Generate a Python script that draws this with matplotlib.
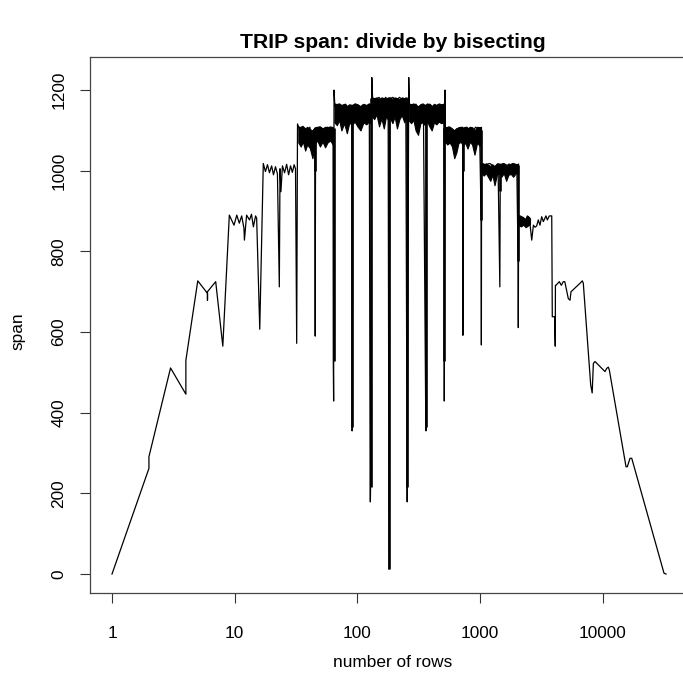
import numpy as np
import matplotlib.pyplot as plt

plt.rcParams['font.family'] = ['Liberation Sans', 'DejaVu Sans']

# span traced along the upper edge of the curve, with the dips at the
# (half) powers of two
rows = [1, 2, 2, 3, 4, 4, 5, 6, 6, 6, 7, 8,
        9.04, 9.87, 10.4, 10.9, 11.4, 11.9, 12.0, 12.5, 13.2, 13.7, 14.2, 14.8, 15.1, 16,
        17.1, 17.8, 18.5, 19.2, 20, 20.7, 21.5, 22.3, 23.1, 23.4, 23.8, 24.5, 25.5,
        26.5, 27.5, 28.5, 29.5, 30.5, 31.3, 32,
        32.5, 33.5, 36, 39, 41, 43, 44, 45.0, 45.3, 45.6, 49, 53, 57, 61, 63.3,
        63.6, 64, 64.5,
        65.5, 70, 75, 80, 85, 90, 90.5, 91, 91.5, 96, 103, 110, 118, 125,
        127, 127.5, 128, 131,
        133, 140, 150, 160, 170, 178, 181, 184, 195, 205, 220, 235, 248,
        254, 254.5, 255, 262,
        265, 280, 300, 320, 345, 361, 362, 364, 390, 420, 450, 480, 505,
        510, 510.5, 511, 517,
        520, 560, 600, 650, 700, 720, 724, 728, 780, 850, 920, 990,
        1020, 1024, 1028,
        1100, 1200, 1310, 1400, 1448, 1460, 1550, 1700, 1850, 1990,
        2040, 2048,
        2060, 2115, 2250, 2322, 2427, 2520, 2635, 2718, 2800, 2890, 2980, 3076,
        3174, 3275, 3443, 3530, 3665, 3835,
        3875, 4050, 4096, 4110, 4156, 4420, 4590, 4765, 4900, 5233, 5404, 5505,
        6520, 6808, 6935, 7965, 8192, 8375, 8635, 10420, 10760, 11090, 11300,
        15460, 15840, 16660, 17210, 31540, 32768]
span = [0, 262, 291, 511, 446, 530, 727, 696, 679, 700, 725, 565,
        890, 865, 890, 870, 888, 857, 828, 890, 878, 892, 861, 888, 882, 607,
        1018, 998, 1015, 995, 1012, 990, 1010, 992, 712, 1005, 948, 1012, 995,
        1016, 990, 1012, 996, 1015, 1005, 572,
        1116, 1105, 1110, 1090, 1108, 1047, 1100, 1105, 590, 1100, 1108, 1095, 1108, 1100, 1105,
        528, 429, 1200,
        1160, 1165, 1150, 1165, 1155, 1160, 355, 364, 1160, 1165, 1150, 1163, 1155, 1165,
        215, 179, 215, 1231,
        1180, 1175, 1182, 1170, 1182, 1175, 12, 1178, 1182, 1172, 1182, 1175, 1180,
        215, 179, 215, 1231,
        1165, 1160, 1165, 1150, 1160, 364, 355, 1160, 1165, 1155, 1163, 1160, 1165,
        945, 429, 528, 1200,
        1105, 1109, 1095, 1105, 1100, 1108, 592, 1100, 1108, 1095, 1108, 1100,
        878, 568, 1019,
        1015, 1018, 1010, 1017, 712, 1015, 1018, 1012, 1018, 1015,
        776, 611,
        888, 888, 884, 874, 888, 882, 828, 865, 860, 863, 878, 865,
        886, 874, 888, 878, 888, 888,
        638, 638, 565, 716, 716, 725, 716, 725, 725, 683, 679, 700,
        721, 727, 721, 469, 449, 522, 527, 502, 510, 513, 506,
        266, 266, 287, 287, 2, 0]

# dense parts of the curve: upper / lower envelope of each plateau
band_rows = [[33, 34.5, 36, 37.5, 39, 41, 43, 45, 47, 49.5, 52, 54.5, 57, 60, 63],
             [65, 68, 71, 74, 78, 82, 86, 90, 95, 100, 106, 112, 118, 124, 127],
             [131, 137, 143, 150, 157, 164, 171, 178, 185, 193, 201, 210, 220, 230, 241, 252],
             [262, 274, 286, 298, 312, 326, 340, 355, 370, 386, 403, 421, 440, 460, 480, 505],
             [518, 540, 565, 590, 615, 640, 665, 695, 725, 755, 790, 825, 860, 900, 945, 990, 1018],
             [1028, 1070, 1115, 1160, 1210, 1260, 1310, 1370, 1430, 1490, 1560, 1630, 1700, 1780,
              1860, 1950, 2040],
             [2055, 2150, 2250, 2350, 2450, 2550]]
band_hi = [[1110, 1108, 1110, 1105, 1109, 1103, 1100, 1108, 1109, 1110, 1105, 1109, 1108, 1110, 1108],
           [1167, 1165, 1167, 1163, 1166, 1160, 1165, 1163, 1167, 1165, 1160, 1166, 1163, 1167, 1165],
           [1182, 1180, 1182, 1177, 1182, 1180, 1178, 1182, 1182, 1178, 1182, 1180, 1177, 1182, 1180, 1182],
           [1167, 1165, 1167, 1163, 1160, 1165, 1167, 1163, 1167, 1165, 1160, 1166, 1163, 1167, 1165, 1165],
           [1109, 1107, 1109, 1105, 1100, 1103, 1108, 1109, 1107, 1109, 1105, 1109, 1108, 1100, 1109,
            1108, 1109],
           [1018, 1016, 1018, 1015, 1012, 1016, 1010, 1018, 1018, 1016, 1018, 1012, 1018, 1016, 1018,
            1015, 1018],
           [888, 886, 884, 880, 888, 882]]
band_lo = [[1070, 1060, 1072, 1050, 1065, 1056, 1031, 1068, 1075, 1060, 1072, 1058, 1070, 1075, 1065],
           [1120, 1113, 1126, 1100, 1118, 1093, 1120, 1113, 1122, 1110, 1100, 1120, 1115, 1122, 1118],
           [1135, 1128, 1140, 1110, 1130, 1105, 1135, 1126, 1130, 1118, 1135, 1105, 1128, 1138, 1120, 1135],
           [1125, 1118, 1126, 1100, 1089, 1118, 1120, 1113, 1122, 1110, 1100, 1120, 1115, 1122, 1118, 1120],
           [1072, 1065, 1070, 1060, 1031, 1045, 1068, 1072, 1062, 1070, 1055, 1072, 1065, 1040, 1070,
            1062, 1070],
           [994, 988, 994, 985, 975, 990, 964, 990, 994, 985, 994, 975, 990, 992, 985, 994, 994],
           [865, 862, 866, 860, 864, 868]]

# the dips where many rows pile up look heavier
heavy_rows = [45.3, 64, 90.5, 128, 181, 256, 362, 512, 724, 1024, 1448, 2048]
heavy_top = [1105, 1105, 1160, 1180, 1180, 1180, 1160, 1105, 1105, 1100, 1015, 1015]
heavy_low = [1000, 528, 364, 215, 12, 215, 364, 528, 1000, 878, 950, 776]

x_ticks = [1, 10, 100, 1000, 10000]
x_labels = ["1", "10", "100", "1000", "10000"]
y_ticks = [0, 200, 400, 600, 800, 1000, 1200]

fig = plt.figure(figsize=(6.83, 6.82), dpi=100)
ax = fig.add_axes([0.1318, 0.1305, 0.8755, 0.7859])

for r, hi, lo in zip(band_rows, band_hi, band_lo):
    ax.fill_between(r, lo, hi, color="black", linewidth=0.8)
ax.vlines(heavy_rows, heavy_low, heavy_top, color="black", linewidth=1.9)
ax.plot(rows, span, color="black", linewidth=0.9)

ax.set_xscale("log")
ax.set_xlim(0.662, 49450)
ax.set_ylim(-47, 1282)
ax.minorticks_off()
ax.set_xticks(x_ticks)
ax.set_xticklabels(x_labels)
ax.set_yticks(y_ticks)
ax.set_yticklabels([str(v) for v in y_ticks], rotation=90, va="center")
ax.tick_params(length=7, width=0.8, labelsize=12.4, color="#333333")
ax.tick_params(axis="x", pad=17)
ax.tick_params(axis="y", pad=10)
for s in ax.spines.values():
    s.set_linewidth(0.9)
    s.set_color("#444444")

fig.text(0.575, 0.937, "TRIP span: divide by bisecting", ha="center", va="center",
         fontsize=15.2, fontweight="bold")
fig.text(0.575, 0.029, "number of rows", ha="center", va="center", fontsize=12.4)
fig.text(0.026, 0.514, "span", ha="center", va="center", fontsize=12.4, rotation=90)

fig.savefig("out.png", dpi=100)
